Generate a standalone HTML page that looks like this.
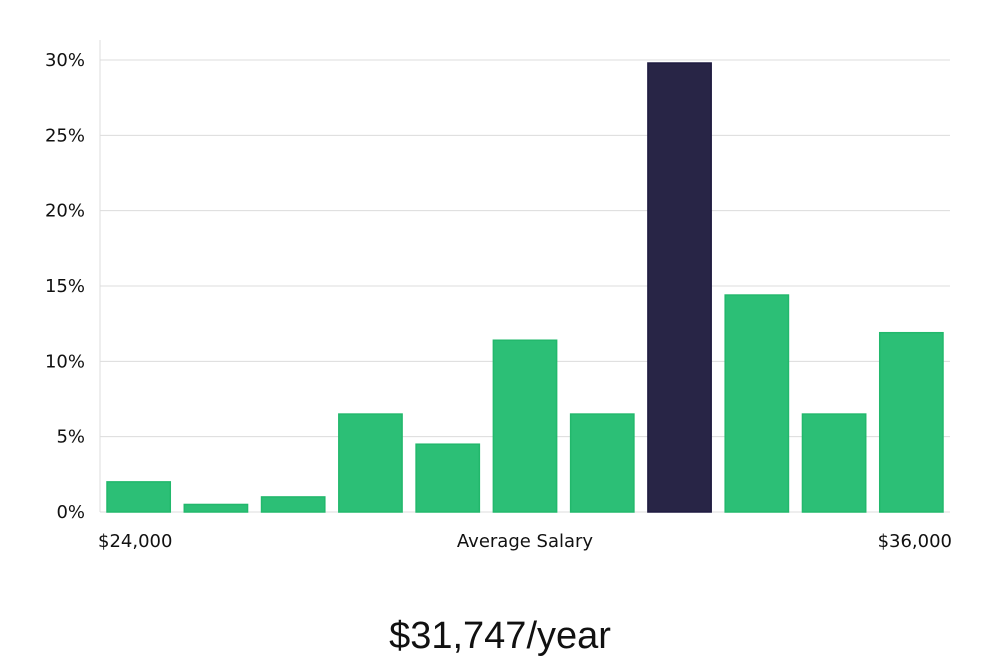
<!DOCTYPE html>
<html><head><meta charset="utf-8"><style>
body{margin:0;background:#fff;}
svg{display:block;font-family:"DejaVu Sans","Liberation Sans",sans-serif;}
</style></head><body>
<svg id="chart" width="1000" height="660" xmlns="http://www.w3.org/2000/svg">
<g id="grid"></g>
<g id="bars"></g>
<g id="yticks"></g>
<line x1="100" y1="40" x2="100" y2="512" stroke="#ddd" stroke-width="1"/>
<text x="98" y="547" font-size="18" fill="#111">$24,000</text>
<text x="525" y="547" font-size="18" fill="#111" text-anchor="middle">Average Salary</text>
<text x="952" y="547" font-size="18" fill="#111" text-anchor="end">$36,000</text>
<text x="500" y="648" font-size="38" font-weight="300" fill="#111" text-anchor="middle" font-family="'Liberation Sans',sans-serif">$31,747/year</text>
</svg>
<script>
const values = [2, 0.5, 1, 6.5, 4.5, 11.4, 6.5, 29.8, 14.4, 6.5, 11.9];
const highlightIndex = 7;
const yTicks = [0, 5, 10, 15, 20, 25, 30];
const yTickLabels = ["0%", "5%", "10%", "15%", "20%", "25%", "30%"];
const NS = "http://www.w3.org/2000/svg";
const x0 = 100, x1 = 950, yBase = 512, yTop = 60, yMax = 30;
const y = v => yBase - (v / yMax) * (yBase - yTop);
const step = (x1 - x0) / values.length;
const bx = i => x0 + i * step + 7;
const bw = step - 14;
const grid = document.getElementById('grid'), yt = document.getElementById('yticks'), bars = document.getElementById('bars');
yTicks.forEach((t, i) => {
  const l = document.createElementNS(NS, 'line');
  
  
  l.setAttribute('x1', 100); l.setAttribute('x2', x1);
  l.setAttribute('y1', y(t)); l.setAttribute('y2', y(t));
  l.setAttribute('stroke', '#dcdcdc');
  grid.appendChild(l);
  const tx = document.createElementNS(NS, 'text');
  
  
  tx.setAttribute('x', 85); tx.setAttribute('y', y(t) + 6);
  tx.setAttribute('text-anchor', 'end'); tx.setAttribute('font-size', '18'); tx.setAttribute('fill', '#111');
  tx.textContent = yTickLabels[i];
  yt.appendChild(tx);
});
values.forEach((v, i) => {
  const r = document.createElementNS(NS, 'rect');
  
  
  r.setAttribute('x', bx(i)); r.setAttribute('width', bw);
  r.setAttribute('y', y(v)); r.setAttribute('height', yBase - y(v));
  const hl = i === highlightIndex;
  r.setAttribute('fill', hl ? '#282546' : '#2cbf76');
  r.setAttribute('stroke', hl ? '#1e1a40' : '#22b86c');
  r.setAttribute('stroke-width', '1.5');
  bars.appendChild(r);
});
</script>
</body></html>
